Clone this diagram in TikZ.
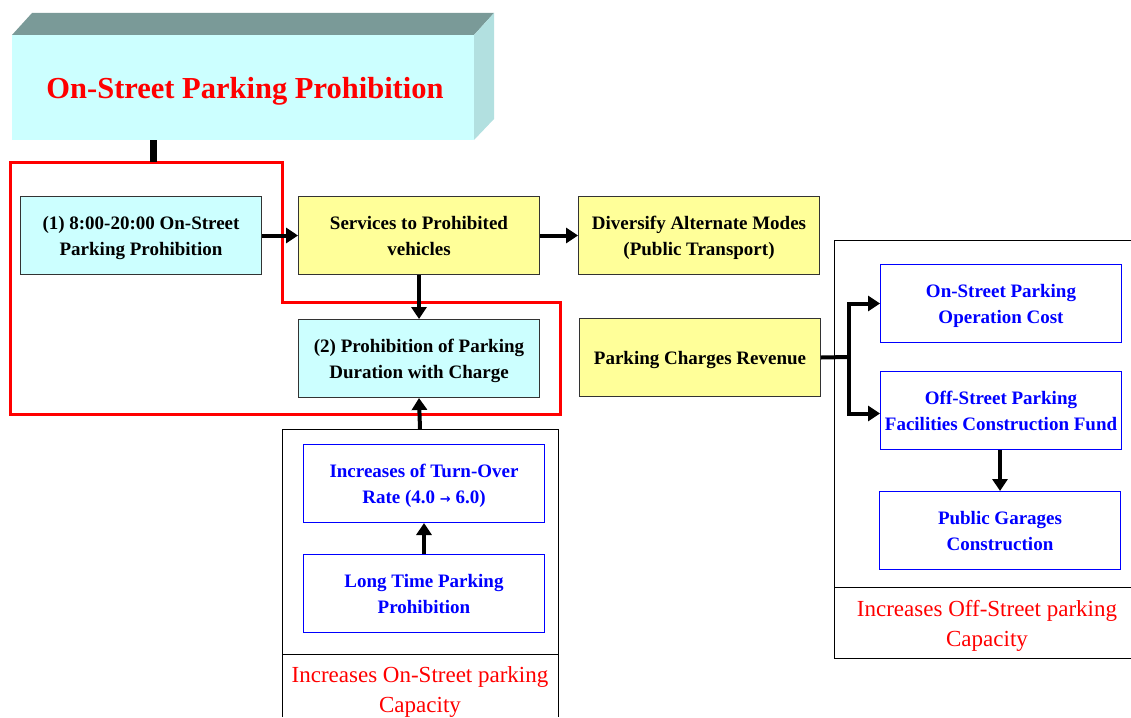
\documentclass[tikz,border=0pt]{standalone}
\usepackage{fontspec}
\setmainfont{Liberation Serif}
\usetikzlibrary{arrows.meta}
\definecolor{cyanbox}{HTML}{CCFFFF}
\definecolor{yelbox}{HTML}{FFFF99}
\definecolor{topface}{HTML}{7A9A98}
\definecolor{sideface}{HTML}{B2E0E0}
\definecolor{bordgray}{HTML}{333333}
\definecolor{txtblue}{HTML}{0000FF}
\definecolor{txtred}{HTML}{FF0000}
\tikzset{
  box/.style={draw=bordgray, line width=1pt, minimum width=241pt, minimum height=78pt, anchor=north west, align=center, inner sep=0pt,
    text depth=-3pt, font=\fontsize{19}{26}\selectfont\bfseries},
  cbox/.style={box, fill=cyanbox},
  ybox/.style={box, fill=yelbox},
  bbox/.style={box, draw=txtblue, text=txtblue},
  panel/.style={draw=black, line width=1pt},
  redtxt/.style={text=txtred, align=center, font=\fontsize{23}{30.5}\selectfont},
  arr/.style={line width=4pt, -{Triangle[width=15pt,length=12pt]}},
  link/.style={line width=4pt},
}
\begin{document}
\begin{tikzpicture}[x=1pt,y=-1pt]
\useasboundingbox (0,0) rectangle (1131,717);
% title 3D box
\fill[topface] (12,35) -- (32,13) -- (494,13) -- (474,35) -- cycle;
\fill[sideface] (474,35) -- (494,13) -- (494,119) -- (474,140) -- cycle;
\node[fill=cyanbox, minimum width=462pt, minimum height=105pt, anchor=north west, inner sep=0pt] (title) at (12,35) {};
\node[text=txtred, font=\fontsize{30.5}{32}\selectfont\bfseries] (ttext) at (245,91) {On-Street Parking Prohibition};
% red outline
\draw[txtred, line width=3pt] (10,162) -- (282,162) -- (282,302) -- (560,302) -- (560,414) -- (10,414) -- cycle;
\coordinate (tb) at (153,162);
\draw[line width=7pt] (title.south -| tb) -- (tb);
% boxes
\node[cbox] (b1) at (20,196) {(1) 8:00-20:00 On-Street\\Parking Prohibition};
\node[ybox] (svc) at (298,196) {Services to Prohibited\\vehicles};
\node[ybox] (div) at (578,196) {Diversify Alternate Modes\\(Public Transport)};
\node[cbox] (b2) at (298,319) {(2) Prohibition of Parking\\Duration with Charge};
\node[ybox] (rev) at (579,318) {Parking Charges Revenue};
% left panel
\draw[panel] (282,717) -- (282,429) -- (558,429) -- (558,717);
\draw[panel] (282,654) -- (558,654);
\coordinate (lp) at (420,429);
\node[bbox] (turn) at (303,444) {Increases of Turn-Over\\Rate (4.0 {\fontspec{DejaVu Sans}\fontsize{13}{26}\selectfont →} 6.0)};
\node[bbox] (long) at (303,554) {Long Time Parking\\Prohibition};
\node[redtxt] (lcap) at (420,692) {Increases On-Street parking\\Capacity};
% right panel
\draw[panel] (1131,240) -- (834,240) -- (834,658) -- (1131,658);
\draw[panel] (834,587) -- (1131,587);
\node[bbox] (opc) at (880,264) {On-Street Parking\\Operation Cost};
\node[bbox] (fund) at (880,371) {Off-Street Parking\\Facilities Construction Fund};
\node[bbox] (gar) at (879,491) {Public Garages\\Construction};
\node[redtxt] (rcap) at (987,626) {Increases Off-Street parking\\Capacity};
% arrows
\draw[arr] (b1.east) -- (svc.west);
\draw[arr] (svc.east) -- (div.west);
\draw[arr] (svc.south) -- (b2.north);
\draw[arr] (lp) -- (b2.south);
\draw[arr] (long.north) -- (long.north |- turn.south);
\coordinate (sp) at (849,357);
\draw[link] (rev.east) -- (sp);
\draw[arr] (sp) |- (opc.west);
\draw[arr] (sp) |- ([yshift=-3pt]fund.west);
\draw[arr] (fund.south -| gar.north) -- (gar.north);
\end{tikzpicture}
\end{document}
